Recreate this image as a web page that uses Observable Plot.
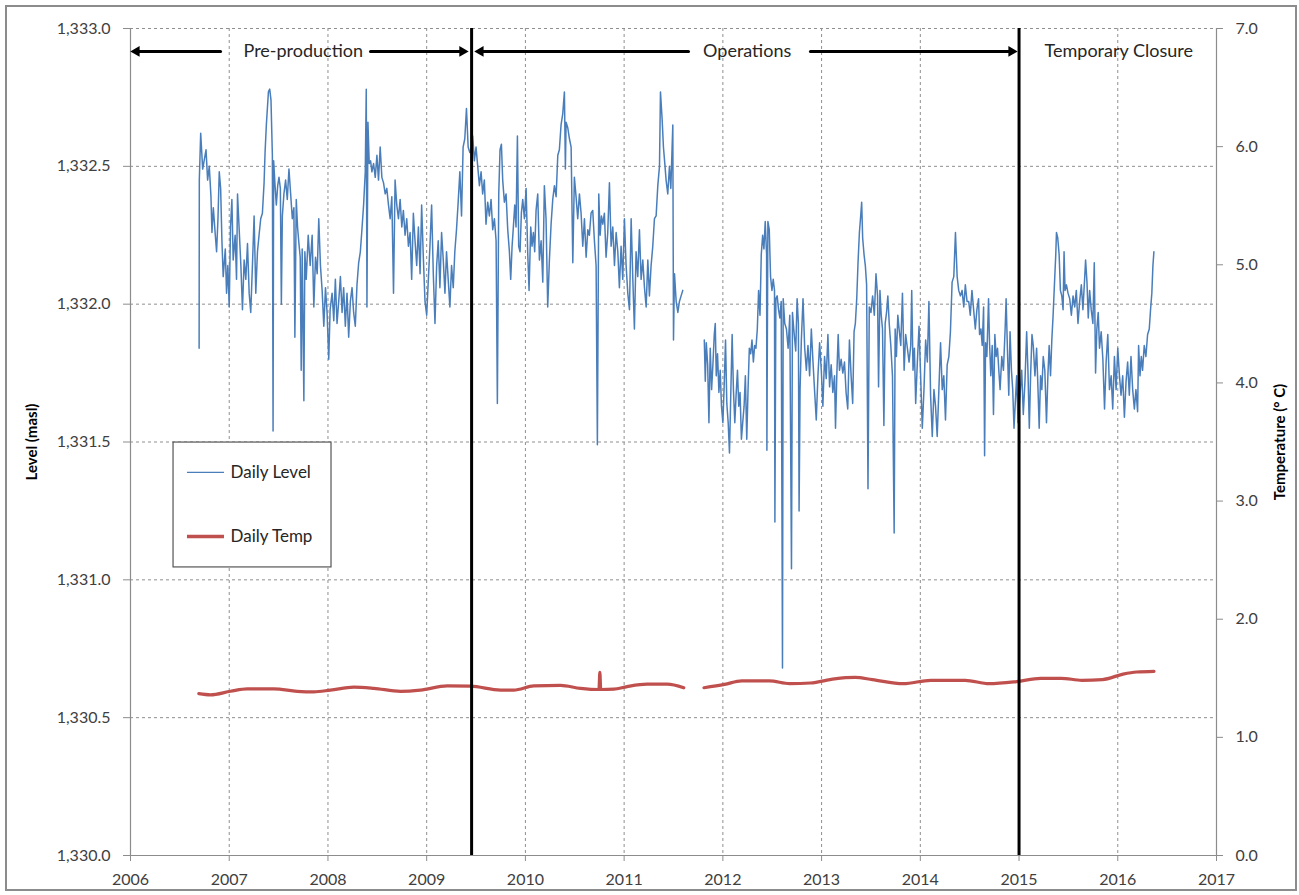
<!DOCTYPE html>
<html><head><meta charset="utf-8">
<script src="https://cdn.jsdelivr.net/npm/d3@7"></script>
<script src="https://cdn.jsdelivr.net/npm/@observablehq/plot@0.6"></script>
<style>
html,body{margin:0;padding:0;background:#fff;}
#wrap{position:relative;width:1299px;height:895px;}
#border{position:absolute;left:5px;top:5px;width:1288px;height:882px;border:2px solid #8c8c8c;pointer-events:none;}
</style></head><body><div id="wrap"><div id="border"></div></div>
<script>
// ---------- tick labels ----------
const yearTicks = [2006,2007,2008,2009,2010,2011,2012,2013,2014,2015,2016,2017];
const levelTicks = [1330.0,1330.5,1331.0,1331.5,1332.0,1332.5,1333.0];
const tempTicks = [0,1,2,3,4,5,6,7];

// ---------- phases ----------
const phaseBoundaries = [2009.455, 2015.0];
const phaseLabels = [
  {label:"Pre-production", x:2007.75},
  {label:"Operations", x:2012.246},
  {label:"Temporary Closure", x:2016.01}
];
const phaseArrows = [
  {from:2006.912, to:2006.0},
  {from:2008.431, to:2009.423},
  {from:2011.652, to:2009.484},
  {from:2012.887, to:2014.984}
];
const arrowLevel = 1332.917;

// ---------- daily level (masl) [decimal year, level] ----------
const levelPre = [
[2006.695,1331.84],[2006.697,1332.45],[2006.711,1332.62],[2006.731,1332.49],[2006.765,1332.56],[2006.781,1332.45],[2006.798,1332.50],[2006.815,1332.39],[2006.825,1332.26],[2006.839,1332.35],[2006.859,1332.25],[2006.872,1332.19],[2006.886,1332.31],[2006.899,1332.48],[2006.913,1332.42],[2006.926,1332.23],[2006.939,1332.10],[2006.960,1332.20],[2006.973,1332.04],[2006.986,1332.14],
[2007.000,1331.99],[2007.013,1332.28],[2007.027,1332.38],[2007.040,1332.16],[2007.060,1332.25],[2007.074,1332.09],[2007.084,1332.40],[2007.101,1332.27],[2007.118,1332.14],[2007.134,1331.98],[2007.151,1332.16],[2007.168,1332.09],[2007.185,1332.22],[2007.202,1332.04],[2007.218,1331.97],[2007.235,1332.14],[2007.252,1332.32],[2007.269,1332.04],[2007.286,1332.19],[2007.302,1332.25],[2007.319,1332.31],[2007.336,1332.33],[2007.353,1332.44],[2007.363,1332.55],[2007.376,1332.65],[2007.397,1332.77],[2007.410,1332.78],[2007.423,1332.74],[2007.437,1332.54],[2007.444,1331.54],[2007.450,1332.52],[2007.464,1332.43],[2007.477,1332.36],[2007.491,1332.43],[2007.504,1332.46],[2007.518,1332.42],[2007.528,1332.00],[2007.538,1332.32],[2007.554,1332.40],[2007.571,1332.45],[2007.588,1332.38],[2007.605,1332.49],[2007.622,1332.40],[2007.639,1332.31],[2007.655,1332.35],[2007.665,1331.88],[2007.679,1332.38],[2007.692,1332.28],[2007.706,1332.22],[2007.719,1332.17],[2007.729,1331.76],[2007.739,1332.20],[2007.756,1331.65],[2007.766,1332.19],[2007.780,1332.09],[2007.800,1332.25],[2007.820,1332.14],[2007.840,1332.25],[2007.857,1331.99],[2007.874,1332.17],[2007.891,1332.11],[2007.907,1332.31],[2007.924,1332.14],[2007.941,1332.05],[2007.958,1331.92],[2007.975,1332.06],[2007.991,1331.97],
[2008.008,1331.80],[2008.022,1331.98],[2008.042,1332.04],[2008.059,1331.94],[2008.075,1332.09],[2008.092,1331.93],[2008.109,1332.01],[2008.126,1332.10],[2008.143,1331.97],[2008.159,1332.06],[2008.176,1331.92],[2008.193,1332.04],[2008.210,1331.88],[2008.227,1332.01],[2008.244,1332.06],[2008.260,1331.97],[2008.277,1331.92],[2008.294,1332.07],[2008.311,1332.15],[2008.328,1332.19],[2008.344,1332.27],[2008.361,1332.36],[2008.378,1332.48],[2008.388,1332.78],[2008.395,1331.99],[2008.405,1332.66],[2008.418,1332.51],[2008.432,1332.52],[2008.445,1332.48],[2008.462,1332.51],[2008.479,1332.46],[2008.496,1332.54],[2008.512,1332.45],[2008.529,1332.57],[2008.546,1332.46],[2008.563,1332.44],[2008.580,1332.40],[2008.596,1332.42],[2008.613,1332.36],[2008.630,1332.31],[2008.647,1332.39],[2008.664,1332.04],[2008.680,1332.45],[2008.697,1332.36],[2008.714,1332.31],[2008.731,1332.38],[2008.748,1332.28],[2008.764,1332.34],[2008.781,1332.25],[2008.798,1332.31],[2008.815,1332.21],[2008.832,1332.26],[2008.848,1332.09],[2008.865,1332.33],[2008.882,1332.23],[2008.899,1332.14],[2008.916,1332.28],[2008.933,1332.11],[2008.949,1332.36],[2008.966,1332.17],[2008.983,1332.01],
[2009.000,1331.96],[2009.017,1332.09],[2009.033,1332.21],[2009.050,1332.36],[2009.067,1332.11],[2009.084,1331.93],[2009.101,1332.14],[2009.117,1332.23],[2009.134,1332.06],[2009.151,1332.26],[2009.168,1332.16],[2009.185,1332.04],[2009.201,1332.19],[2009.218,1332.09],[2009.235,1331.99],[2009.252,1332.14],[2009.269,1332.06],[2009.285,1332.19],[2009.302,1332.27],[2009.319,1332.37],[2009.336,1332.48],[2009.353,1332.32],[2009.369,1332.57],[2009.386,1332.60],[2009.403,1332.71],[2009.420,1332.57],[2009.437,1332.55]
];
const levelOpsA = [
[2009.449,1332.55],[2009.466,1332.61],[2009.483,1332.52],[2009.500,1332.57],[2009.517,1332.50],[2009.534,1332.43],[2009.551,1332.48],[2009.567,1332.40],[2009.584,1332.45],[2009.601,1332.29],[2009.618,1332.37],[2009.635,1332.32],[2009.652,1332.38],[2009.669,1332.27],[2009.686,1332.31],[2009.703,1332.23],[2009.716,1331.64],[2009.730,1332.40],[2009.743,1332.56],[2009.757,1332.58],[2009.770,1332.45],[2009.787,1332.37],[2009.804,1332.40],[2009.821,1332.27],[2009.838,1332.19],[2009.851,1332.09],[2009.865,1332.21],[2009.878,1332.28],[2009.892,1332.36],[2009.905,1332.28],[2009.919,1332.61],[2009.932,1332.21],[2009.946,1332.19],[2009.959,1332.33],[2009.973,1332.38],[2009.990,1332.31],
[2010.007,1332.42],[2010.023,1332.19],[2010.037,1332.05],[2010.054,1332.28],[2010.067,1332.21],[2010.081,1332.26],[2010.094,1332.19],[2010.108,1332.34],[2010.125,1332.40],[2010.142,1332.16],[2010.159,1332.23],[2010.176,1332.08],[2010.192,1332.43],[2010.209,1332.31],[2010.226,1331.99],[2010.243,1332.16],[2010.260,1332.29],[2010.277,1332.38],[2010.294,1332.43],[2010.311,1332.39],[2010.328,1332.54],[2010.344,1332.56],[2010.361,1332.65],[2010.378,1332.69],[2010.395,1332.77],[2010.405,1332.49],[2010.412,1332.66],[2010.429,1332.64],[2010.446,1332.60],[2010.463,1332.57],[2010.480,1332.15],[2010.496,1332.46],[2010.513,1332.39],[2010.530,1332.31],[2010.547,1332.40],[2010.564,1332.33],[2010.581,1332.21],[2010.598,1332.31],[2010.615,1332.17],[2010.632,1332.27],[2010.648,1332.25],[2010.665,1332.33],[2010.682,1332.34],[2010.699,1332.23],[2010.716,1332.14],[2010.729,1331.49],[2010.743,1332.40],[2010.757,1332.25],[2010.770,1332.32],[2010.784,1332.29],[2010.800,1332.33],[2010.817,1332.17],[2010.834,1332.26],[2010.851,1332.44],[2010.868,1332.21],[2010.885,1332.28],[2010.902,1332.14],[2010.919,1332.26],[2010.936,1332.19],[2010.952,1332.06],[2010.969,1332.21],[2010.986,1332.09],
[2011.003,1332.31],[2011.020,1332.14],[2011.037,1332.04],[2011.054,1331.98],[2011.071,1332.31],[2011.088,1332.09],[2011.104,1331.91],[2011.121,1332.19],[2011.138,1332.10],[2011.155,1332.27],[2011.172,1332.09],[2011.189,1332.16],[2011.206,1332.06],[2011.223,1331.99],[2011.240,1332.16],[2011.256,1332.03],[2011.273,1332.14],[2011.290,1332.21],[2011.307,1332.31],[2011.324,1332.32],[2011.341,1332.43],[2011.358,1332.50],[2011.368,1332.77],[2011.385,1332.67],[2011.398,1332.57],[2011.412,1332.51],[2011.425,1332.45],[2011.442,1332.40],[2011.459,1332.50],[2011.473,1332.42],[2011.486,1332.57],[2011.493,1332.65],[2011.500,1331.87],[2011.510,1332.11],[2011.527,1332.01],[2011.544,1331.97],[2011.560,1332.01],[2011.577,1332.03],[2011.594,1332.05]
];
const levelOpsB = [
[2011.812,1331.87],[2011.822,1331.72],[2011.832,1331.86],[2011.846,1331.78],[2011.859,1331.57],[2011.872,1331.84],[2011.886,1331.69],[2011.899,1331.78],[2011.913,1331.89],[2011.923,1331.93],[2011.933,1331.74],[2011.946,1331.82],[2011.960,1331.68],[2011.973,1331.76],[2011.986,1331.63],
[2012.000,1331.57],[2012.013,1331.70],[2012.027,1331.87],[2012.040,1331.64],[2012.054,1331.57],[2012.067,1331.46],[2012.080,1331.67],[2012.094,1331.89],[2012.107,1331.69],[2012.121,1331.57],[2012.134,1331.67],[2012.148,1331.76],[2012.161,1331.63],[2012.174,1331.68],[2012.188,1331.51],[2012.201,1331.57],[2012.215,1331.63],[2012.228,1331.74],[2012.242,1331.51],[2012.255,1331.69],[2012.268,1331.84],[2012.282,1331.82],[2012.295,1331.87],[2012.309,1331.79],[2012.322,1331.85],[2012.335,1331.84],[2012.349,1331.91],[2012.362,1332.05],[2012.376,1331.96],[2012.389,1332.18],[2012.403,1332.25],[2012.416,1332.20],[2012.429,1332.30],[2012.443,1332.18],[2012.446,1331.47],[2012.456,1332.30],[2012.470,1332.27],[2012.483,1332.10],[2012.497,1332.05],[2012.510,1332.09],[2012.523,1332.05],[2012.527,1331.21],[2012.537,1332.02],[2012.550,1332.03],[2012.564,1331.98],[2012.577,1331.95],[2012.591,1332.01],[2012.604,1330.68],[2012.611,1332.02],[2012.627,1331.93],[2012.644,1331.91],[2012.661,1331.84],[2012.678,1331.96],[2012.695,1331.04],[2012.705,1331.97],[2012.718,1331.91],[2012.738,1331.83],[2012.752,1332.02],[2012.765,1331.93],[2012.772,1331.25],[2012.782,1331.69],[2012.795,1331.87],[2012.812,1332.02],[2012.829,1331.84],[2012.846,1331.76],[2012.862,1331.85],[2012.879,1331.74],[2012.896,1331.91],[2012.913,1331.79],[2012.930,1331.68],[2012.946,1331.58],[2012.963,1331.74],[2012.980,1331.86],[2012.997,1331.76],
[2013.013,1331.63],[2013.030,1331.81],[2013.047,1331.73],[2013.064,1331.89],[2013.081,1331.70],[2013.097,1331.78],[2013.114,1331.68],[2013.131,1331.74],[2013.141,1331.55],[2013.154,1331.74],[2013.168,1331.89],[2013.181,1331.76],[2013.198,1331.80],[2013.215,1331.75],[2013.232,1331.79],[2013.248,1331.68],[2013.265,1331.62],[2013.282,1331.87],[2013.299,1331.74],[2013.315,1331.64],[2013.329,1331.90],[2013.342,1331.93],[2013.356,1332.02],[2013.369,1332.15],[2013.383,1332.26],[2013.396,1332.32],[2013.406,1332.37],[2013.416,1332.24],[2013.430,1332.18],[2013.443,1332.14],[2013.456,1332.07],[2013.470,1331.33],[2013.483,1331.99],[2013.500,1331.97],[2013.517,1332.03],[2013.534,1331.96],[2013.551,1332.11],[2013.567,1332.03],[2013.577,1331.70],[2013.591,1332.05],[2013.604,1331.96],[2013.617,1331.91],[2013.631,1331.56],[2013.644,1331.93],[2013.658,1331.97],[2013.671,1332.03],[2013.685,1331.93],[2013.701,1331.85],[2013.718,1331.74],[2013.735,1331.17],[2013.745,1331.91],[2013.758,1331.81],[2013.772,1331.96],[2013.785,1331.91],[2013.802,1331.85],[2013.819,1332.04],[2013.836,1331.76],[2013.852,1331.89],[2013.869,1331.84],[2013.886,1331.79],[2013.903,1331.85],[2013.913,1332.05],[2013.926,1331.76],[2013.940,1331.84],[2013.953,1331.64],[2013.970,1331.79],[2013.987,1331.92],
[2014.003,1331.74],[2014.020,1331.55],[2014.037,1331.69],[2014.054,1331.87],[2014.071,1331.79],[2014.087,1332.01],[2014.104,1331.67],[2014.121,1331.52],[2014.138,1331.69],[2014.154,1331.63],[2014.171,1331.52],[2014.188,1331.69],[2014.205,1331.86],[2014.222,1331.69],[2014.238,1331.74],[2014.255,1331.58],[2014.272,1331.78],[2014.289,1331.81],[2014.305,1331.90],[2014.322,1332.08],[2014.339,1332.10],[2014.356,1332.26],[2014.373,1332.10],[2014.389,1332.05],[2014.406,1332.03],[2014.423,1332.05],[2014.440,1331.99],[2014.456,1332.07],[2014.473,1332.01],[2014.490,1332.01],[2014.506,1331.96],[2014.523,1332.05],[2014.540,1331.98],[2014.557,1331.91],[2014.573,1331.98],[2014.590,1332.02],[2014.600,1331.89],[2014.614,1331.91],[2014.627,1331.85],[2014.641,1331.99],[2014.651,1331.45],[2014.661,1331.86],[2014.674,1331.81],[2014.691,1332.02],[2014.701,1331.86],[2014.714,1331.74],[2014.728,1331.85],[2014.741,1331.60],[2014.755,1331.89],[2014.768,1331.81],[2014.782,1331.84],[2014.795,1331.76],[2014.808,1331.69],[2014.825,1331.81],[2014.842,1331.76],[2014.859,1331.91],[2014.869,1332.02],[2014.882,1331.84],[2014.896,1331.67],[2014.909,1331.90],[2014.923,1331.76],[2014.936,1331.69],[2014.949,1331.55],[2014.963,1331.65],[2014.976,1331.74],[2014.990,1331.57]
];
const levelClosure = [
[2015.010,1331.67],[2015.027,1331.76],[2015.043,1331.60],[2015.060,1331.72],[2015.077,1331.90],[2015.090,1331.76],[2015.104,1331.55],[2015.117,1331.74],[2015.131,1331.89],[2015.144,1331.85],[2015.161,1331.74],[2015.178,1331.84],[2015.194,1331.67],[2015.204,1331.55],[2015.218,1331.74],[2015.231,1331.69],[2015.245,1331.81],[2015.261,1331.76],[2015.278,1331.57],[2015.292,1331.74],[2015.305,1331.85],[2015.319,1331.74],[2015.332,1331.87],[2015.345,1331.96],[2015.362,1332.10],[2015.372,1332.18],[2015.379,1332.26],[2015.392,1332.24],[2015.406,1332.18],[2015.419,1332.05],[2015.433,1332.03],[2015.446,1331.98],[2015.456,1332.19],[2015.466,1332.05],[2015.480,1332.07],[2015.496,1332.04],[2015.513,1332.02],[2015.530,1331.96],[2015.547,1332.03],[2015.564,1331.99],[2015.580,1332.05],[2015.597,1331.93],[2015.614,1332.01],[2015.631,1332.07],[2015.647,1331.98],[2015.664,1332.09],[2015.674,1332.16],[2015.688,1332.08],[2015.701,1331.95],[2015.715,1332.05],[2015.731,1331.98],[2015.748,1331.93],[2015.762,1332.15],[2015.775,1331.75],[2015.788,1331.91],[2015.802,1331.97],[2015.815,1331.84],[2015.832,1331.90],[2015.849,1331.80],[2015.866,1331.62],[2015.882,1331.79],[2015.899,1331.89],[2015.916,1331.69],[2015.933,1331.74],[2015.949,1331.62],[2015.966,1331.81],[2015.983,1331.69],
[2016.000,1331.84],[2016.017,1331.74],[2016.033,1331.67],[2016.050,1331.74],[2016.067,1331.59],[2016.084,1331.72],[2016.100,1331.79],[2016.117,1331.67],[2016.134,1331.81],[2016.151,1331.69],[2016.168,1331.62],[2016.184,1331.69],[2016.201,1331.61],[2016.211,1331.85],[2016.225,1331.74],[2016.238,1331.81],[2016.251,1331.76],[2016.268,1331.85],[2016.285,1331.81],[2016.302,1331.89],[2016.319,1331.91],[2016.332,1331.98],[2016.345,1332.04],[2016.356,1332.14],[2016.366,1332.19]
];

// ---------- daily temperature (°C) [decimal year, temp] ----------
const tempA = [
[2006.692,1.37],[2006.810,1.36],[2007.013,1.39],[2007.182,1.41],[2007.452,1.41],[2007.688,1.39],[2007.857,1.385],[2008.026,1.40],[2008.262,1.425],[2008.465,1.415],[2008.735,1.39],[2008.937,1.40],[2009.208,1.435],[2009.444,1.433],[2009.748,1.40],[2009.882,1.40],[2010.085,1.435],[2010.355,1.44],[2010.558,1.415],[2010.745,1.405],[2010.754,1.55],[2010.763,1.405],[2010.895,1.408],[2011.031,1.43],[2011.233,1.45],[2011.436,1.45],[2011.604,1.42]
];
const tempB = [
[2011.809,1.42],[2012.017,1.448],[2012.191,1.478],[2012.470,1.478],[2012.678,1.454],[2012.887,1.46],[2013.131,1.495],[2013.340,1.507],[2013.514,1.489],[2013.827,1.454],[2014.105,1.483],[2014.453,1.483],[2014.697,1.454],[2014.975,1.472],[2015.219,1.50],[2015.427,1.50],[2015.636,1.483],[2015.845,1.489],[2016.054,1.535],[2016.193,1.553],[2016.367,1.559]
];

// ---------- build tables ----------
const levelColor = "#4A7EBB";
const tempColor = "#C0504D";
const toLevel = t => 1330 + t * 3 / 7;      // map temp axis onto level axis
const fromLevel = v => (v - 1330) * 7 / 3;

const levelRows = [
  ...levelPre.map(([year, level]) => ({year, level, seg:"A"})),
  ...levelOpsA.map(([year, level]) => ({year, level, seg:"A"})),
  ...levelOpsB.map(([year, level]) => ({year, level, seg:"B"})),
  ...levelClosure.map(([year, level]) => ({year, level, seg:"B"}))
];
const tempRows = [
  ...tempA.map(([year, temp]) => ({year, temp, seg:"A"})),
  ...tempB.map(([year, temp]) => ({year, temp, seg:"B"}))
];

const legendBox = {x1:2006.436, x2:2008.036, y1:1331.045, y2:1331.498};
const legendItems = [
  {label:"Daily Level", y:1331.390, color:levelColor, width:1.3},
  {label:"Daily Temp", y:1331.157, color:tempColor, width:3.5}
];
const legendLineX = [2006.577, 2006.952];
const legendTextX = 2007.013;

const gridColor = "#8f8f8f";
const axisColor = "#8c8c8c";
const rightArrows = phaseArrows.filter(d => d.to > d.from);
const leftArrows = phaseArrows.filter(d => d.to < d.from);

const chart = Plot.plot({
  width:1299, height:895,
  marginLeft:130, marginRight:83, marginTop:28, marginBottom:40,
  style:{fontFamily:"Lato, 'Open Sans', sans-serif", fontSize:"16px", color:"#404040", background:"transparent"},
  x:{domain:[2006,2017]},
  y:{domain:[1330,1333]},
  marks:[
    Plot.gridX(yearTicks.slice(1,-1), {stroke:gridColor, strokeOpacity:1, strokeDasharray:"3,3"}),
    Plot.gridY(levelTicks.slice(1), {stroke:gridColor, strokeOpacity:1, strokeDasharray:"3,3"}),
    Plot.ruleX([2006, 2017], {stroke:axisColor, strokeWidth:1.2}),
    Plot.ruleY([1330], {stroke:axisColor, strokeWidth:1.2}),
    Plot.axisX(yearTicks, {tickFormat:d => String(d), tickSize:6, tickPadding:12, stroke:axisColor, fill:"#404040", fontSize:16, label:null}),
    Plot.axisY(levelTicks, {anchor:"left", tickFormat:d3.format(",.1f"), tickSize:7, tickPadding:13, stroke:axisColor, fill:"#404040", fontSize:16, label:null}),
    Plot.axisY(tempTicks.map(toLevel), {anchor:"right", tickFormat:v => fromLevel(v).toFixed(1), tickSize:6, tickPadding:13, stroke:axisColor, fill:"#404040", fontSize:16, label:null}),
    // legend box (under data)
    Plot.rect([legendBox], {x1:"x1", x2:"x2", y1:"y1", y2:"y2", fill:"white", stroke:"#555", strokeWidth:1.2}),
    // data
    Plot.line(levelRows, {x:"year", y:"level", z:"seg", stroke:levelColor, strokeWidth:1.5}),
    Plot.line(tempRows, {x:"year", y:d => toLevel(d.temp), z:"seg", stroke:tempColor, strokeWidth:3.2, curve:"monotone-x", strokeLinejoin:"round", strokeLinecap:"round"}),
    // phase markers
    Plot.ruleX(phaseBoundaries, {y1:1330, y2:1333, stroke:"black", strokeWidth:3}),
    Plot.arrow(phaseArrows, {x1:"from", x2:"to", y1:arrowLevel, y2:arrowLevel, stroke:"black", strokeWidth:3, headLength:0, insetEnd:6}),
    Plot.dot(rightArrows, {x:"to", y:arrowLevel, symbol:"triangle", r:4, fill:"black", rotate:90, dx:-6}),
    Plot.dot(leftArrows, {x:"to", y:arrowLevel, symbol:"triangle", r:4, fill:"black", rotate:-90, dx:6}),
    Plot.text(phaseLabels, {x:"x", y:arrowLevel, text:"label", fontSize:18, fill:"#262626"}),
    // legend entries
    Plot.ruleY(legendItems, {y:"y", x1:legendLineX[0], x2:legendLineX[1], stroke:"color", strokeWidth:"width"}),
    Plot.text(legendItems, {x:legendTextX, y:"y", text:"label", textAnchor:"start", fontSize:17, fill:"#262626"}),
    // axis titles
    Plot.text(["Level (masl)"], {text:d => d, frameAnchor:"left", textAnchor:"middle", dx:-98, rotate:-90, fontWeight:"bold", fontSize:15, fill:"black"}),
    Plot.text(["Temperature (° C)"], {text:d => d, frameAnchor:"right", textAnchor:"middle", dx:64, rotate:-90, fontWeight:"bold", fontSize:15, fill:"black"})
  ]
});
document.getElementById("wrap").prepend(chart);
</script>
</body></html>
